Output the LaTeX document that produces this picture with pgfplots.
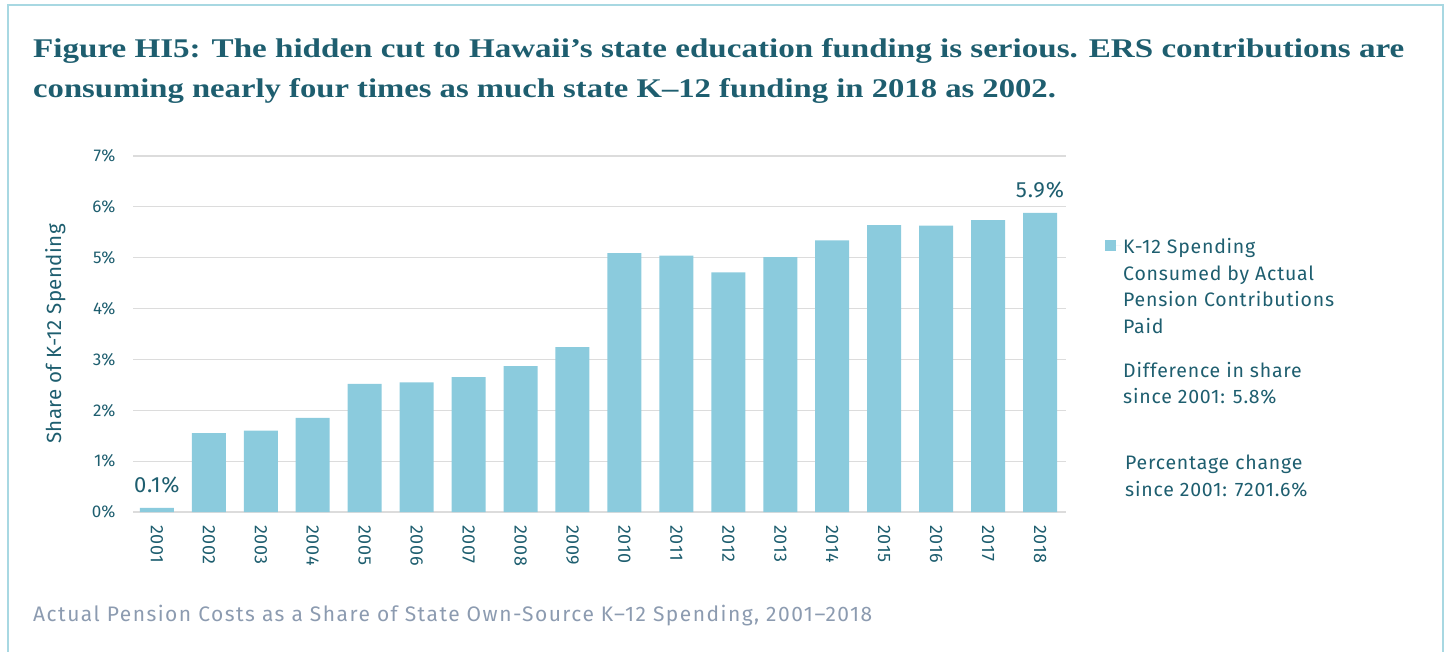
\documentclass[border=0pt]{standalone}
\usepackage{fontspec}
\setmainfont{Fira Sans}
\newfontfamily\titlefont{Liberation Serif}
\usepackage{pgfplots}
\pgfplotsset{compat=1.18}
\definecolor{barc}{HTML}{8BCBDD}
\definecolor{tealc}{HTML}{1E5E6F}
\definecolor{capc}{HTML}{8C9BB0}
\definecolor{framec}{HTML}{A8D8E2}
\definecolor{gridc}{HTML}{DCDCDC}
\pgfplotstableread{
x y
0 0.08
1 1.55
2 1.60
3 1.85
4 2.52
5 2.55
6 2.65
7 2.87
8 3.24
9 5.09
10 5.04
11 4.71
12 5.01
13 5.34
14 5.64
15 5.63
16 5.74
17 5.88
}\datatable
\begin{document}
\begin{tikzpicture}[x=1pt,y=1pt]
\useasboundingbox (0,0) rectangle (1446,-652);
\draw[framec, line width=1.5pt] (8,-653) -- (8,-5) -- (1443,-5) -- (1443,-653);
\node[anchor=base west, inner sep=0, text=tealc, font=\titlefont\bfseries\fontsize{27}{32}\selectfont] at (33,-58) {\scalebox{1.225}[1]{Figure HI5: The hidden cut to Hawaii’s state education funding is serious. ERS contributions are}};
\node[anchor=base west, inner sep=0, text=tealc, font=\titlefont\bfseries\fontsize{27}{32}\selectfont] at (33,-98) {\scalebox{1.21}[1]{consuming nearly four times as much state K–12 funding in 2018 as 2002.}};
\begin{axis}[
  at={(133pt,-512pt)}, anchor=south west,
  width=933pt, height=356pt, scale only axis,
  xmin=-0.46, xmax=17.5, ymin=0, ymax=7,
  axis line style={draw=none},
  major tick length=0pt,
  ymajorgrids, grid style={gridc, line width=1.2pt},
  ytick={0,1,...,7},
  yticklabel={\pgfmathprintnumber{\tick}\%},
  /pgf/number format/assume math mode=true,
  yticklabel style={font=\fontsize{17}{20}\selectfont, text=tealc, xshift=-14pt},
  xtick=data,
  xticklabels={2001,2002,2003,2004,2005,2006,2007,2008,2009,2010,2011,2012,2013,2014,2015,2016,2017,2018},
  xticklabel shift=10pt,
  xticklabel style={anchor=west, rotate=-90, font=\fontsize{18}{20}\selectfont\addfontfeature{LetterSpace=3}, text=tealc},
  ylabel={Share of K-12 Spending},
  ylabel style={font=\fontsize{20.5}{22}\selectfont\addfontfeature{LetterSpace=2}, text=tealc, at={(-64pt,0.5)}, anchor=south},
  legend style={at={(1105pt-133pt,512pt-236pt)}, anchor=north west, draw=none, fill=none,
    font=\fontsize{19.5}{26.5}\selectfont\addfontfeature{LetterSpace=4}, text=tealc, inner sep=0pt,
    cells={anchor=north west, align=left}},
  legend image code/.code={\path (0pt,-9pt) -- (16pt,-9pt);\fill[barc] (0pt,-14.5pt) rectangle (11pt,-3.5pt);},
  clip=false,
]
\addplot[ybar, bar width=34pt, fill=barc, draw=none] table[x=x,y=y] {\datatable};
\addlegendentry{K-12 Spending\\Consumed by Actual\\Pension Contributions\\Paid}
\node[anchor=base, text=tealc, font=\fontsize{22}{24}\selectfont\addfontfeature{LetterSpace=4}] at (axis cs:0,0.08) [yshift=15pt] {0.1\%};
\node[anchor=base, text=tealc, font=\fontsize{22}{24}\selectfont\addfontfeature{LetterSpace=4}] at (axis cs:17,5.88) [yshift=15pt] {5.9\%};
\end{axis}
\node[anchor=north west, align=left, text=tealc, font=\fontsize{19.5}{26.5}\selectfont\addfontfeature{LetterSpace=4}, inner sep=0] at (1123,-362) {Difference in share\\since 2001: 5.8\%};
\node[anchor=north west, align=left, text=tealc, font=\fontsize{19.5}{26.5}\selectfont\addfontfeature{LetterSpace=4}, inner sep=0] at (1125,-455) {Percentage change\\since 2001: 7201.6\%};
\node[anchor=base west, inner sep=0, text=capc, font=\fontsize{21}{22}\selectfont\addfontfeature{LetterSpace=7}] at (33,-621) {Actual Pension Costs as a Share of State Own-Source K–12 Spending, 2001–2018};
\end{tikzpicture}
\end{document}
